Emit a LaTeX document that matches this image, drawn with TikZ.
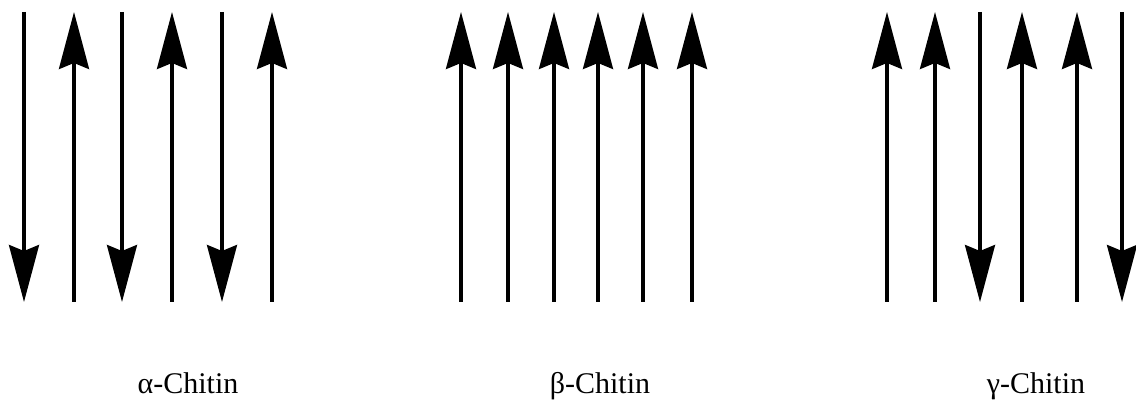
\documentclass[tikz,border=0pt]{standalone}
\usepackage{fontspec}
\setmainfont{Liberation Serif}
\usetikzlibrary{arrows.meta}

\begin{document}
\begin{tikzpicture}[x=1pt,y=1pt,
  strand/.style={line width=3.3pt,-{Stealth[length=57pt,width=30pt,inset=6pt]}},
  lbl/.style={anchor=base,font=\fontsize{30}{34}\selectfont}]
 \useasboundingbox (0,0) rectangle (1136,403);
 % alpha: antiparallel
 \foreach \x/\s/\e [count=\i] in {24/t/b,74/b/t,122/t/b,172/b/t,222/t/b,272/b/t} {
   \coordinate (a\i t) at (\x,391); \coordinate (a\i b) at (\x,101);
   \draw[strand] (a\i\s) -- (a\i\e);
 }
 \node[lbl] (alpha) at (188,9) {α-Chitin};
 % beta: parallel
 \foreach \x [count=\i] in {461,508,554,598,643,692} {
   \coordinate (b\i t) at (\x,391); \coordinate (b\i b) at (\x,101);
   \draw[strand] (b\i b) -- (b\i t);
 }
 \node[lbl] (beta) at (600,9) {β-Chitin};
 % gamma: two up, one down
 \foreach \x/\s/\e [count=\i] in {887/b/t,935/b/t,980/t/b,1022/b/t,1077/b/t,1122/t/b} {
   \coordinate (g\i t) at (\x,391); \coordinate (g\i b) at (\x,101);
   \draw[strand] (g\i\s) -- (g\i\e);
 }
 \node[lbl] (gamma) at (1036,9) {γ-Chitin};
\end{tikzpicture}
\end{document}
